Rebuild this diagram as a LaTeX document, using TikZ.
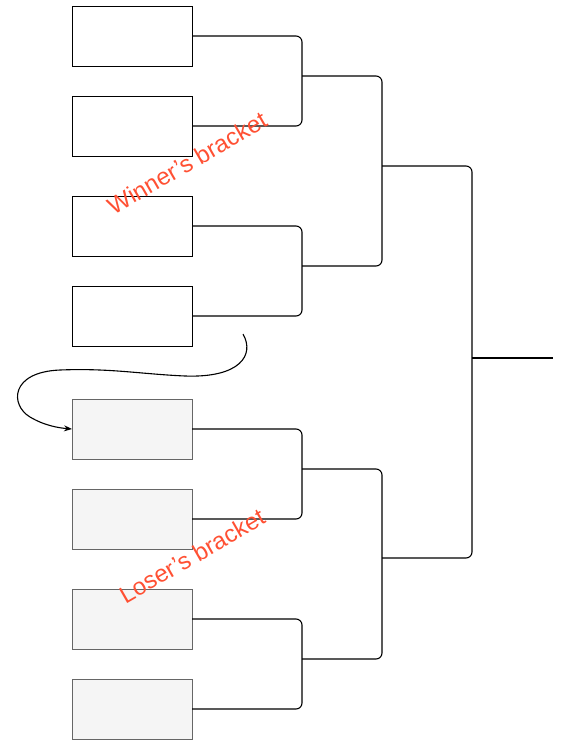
\documentclass[tikz,border=0pt]{standalone}
\usepackage{fontspec}
\setmainfont{Liberation Sans}
\usetikzlibrary{arrows.meta}
\definecolor{labelred}{RGB}{255,80,51}
\definecolor{losefill}{RGB}{245,245,245}
\definecolor{loseline}{RGB}{102,102,102}
\begin{document}
\begin{tikzpicture}[x=1pt,y=-1pt,
  winbox/.style={draw=black,fill=white,line width=1pt,minimum width=120pt,minimum height=60pt,inner sep=0pt,outer sep=0pt,anchor=north west},
  losebox/.style={draw=loseline,fill=losefill,line width=1pt,minimum width=120pt,minimum height=60pt,inner sep=0pt,outer sep=0pt,anchor=north west},
  bline/.style={draw=black,line width=1.1pt,rounded corners=6pt},
  blabel/.style={text=labelred,font=\fontsize{24}{28}\selectfont,rotate=30,inner sep=0pt}]
\useasboundingbox (0,0) rectangle (586,755);
% winner boxes
\node[winbox] (w1) at (72,6) {};
\node[winbox] (w2) at (72,96) {};
\node[winbox] (w3) at (72,196) {};
\node[winbox] (w4) at (72,286) {};
% loser boxes
\node[losebox] (l1) at (72,399) {};
\node[losebox] (l2) at (72,489) {};
\node[losebox] (l3) at (72,589) {};
\node[losebox] (l4) at (72,679) {};
% junctions
\coordinate (ja) at (302,76);
\coordinate (jb) at (302,266);
\coordinate (jc) at (302,469);
\coordinate (jd) at (302,659);
\coordinate (ka) at (382,166);
\coordinate (kb) at (382,558);
\coordinate (fin) at (472,358);
\coordinate (out) at (553,358);
% level 1
\draw[bline] (w1.east) -| (ja) |- (w2.east);
\draw[bline] (w3.east) -| (jb) |- (w4.east);
\draw[bline] (l1.east) -| (jc) |- (l2.east);
\draw[bline] (l3.east) -| (jd) |- (l4.east);
% level 2
\draw[bline] (ja) -| (ka) |- (jb);
\draw[bline] (jc) -| (kb) |- (jd);
% final
\draw[bline] (ka) -| (fin) |- (kb);
\draw[bline] (fin) -- (out);
% curved arrow
\coordinate (cstart) at (243,334);
\draw[line width=1.1pt,-{Stealth[length=8pt,width=6pt]}] (cstart)
  .. controls (255,355) and (240,378) .. (185,376)
  .. controls (140,374) and (110,368) .. (60,370)
  .. controls (10,372) and (10,405) .. (30,417)
  .. controls (45,426) and (60,428) .. (l1.west);
% labels
\node[blabel] (wl) at (187,163) {Winner's bracket};
\node[blabel] (ll) at (192,556) {Loser's bracket};
\end{tikzpicture}
\end{document}
